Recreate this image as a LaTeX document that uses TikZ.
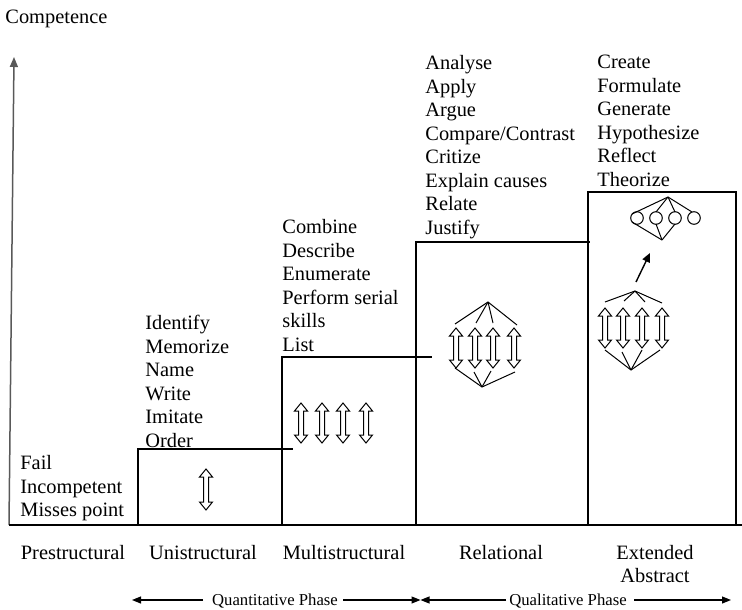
\documentclass[tikz,border=0pt]{standalone}
\usepackage{fontspec}
\setmainfont{Liberation Serif}
\usetikzlibrary{arrows.meta}
% hollow up-down arrow: x, top, bottom
\newcommand{\updown}[3]{%
  \draw[glyph] (#1,#2) -- (#1+6.5,#2+8) -- (#1+2.5,#2+8) -- (#1+2.5,#3-8) -- (#1+6.5,#3-8) -- (#1,#3)
    -- (#1-6.5,#3-8) -- (#1-2.5,#3-8) -- (#1-2.5,#2+8) -- (#1-6.5,#2+8) -- cycle;}
\begin{document}
\begin{tikzpicture}[x=1pt, y=-1pt, line width=0.8pt,
  every node/.style={font=\fontsize{20.4}{23.5}\selectfont, inner sep=0pt},
  list/.style={anchor=north west, align=left},
  level/.style={anchor=base},
  phasetext/.style={anchor=base, font=\fontsize{16.7}{20}\selectfont},
  phase/.style={-{Triangle[length=9pt,width=7pt]}, line width=1.1pt},
  stair/.style={line width=1.2pt},
  glyph/.style={line width=1pt}]
  \useasboundingbox (0,0) rectangle (742,610);
  % axis and stairs
  \node[anchor=base west] (comp) at (5,24) {Competence};
  \draw[-{Triangle[length=10pt,width=8pt]}, line width=1.5pt, black!65] (9,525) -- (14,57);
  \draw[stair] (9,525) -- (742,525);
  \draw[stair] (138,525) -- (138,449) -- (293,449);
  \draw[stair] (282,525) -- (282,357) -- (432,357);
  \draw[stair] (416,525) -- (416,242) -- (590,242);
  \draw[stair] (588,525) -- (588,192) -- (736,192) -- (736,525);
  % verbs
  \node[list] (preverbs) at (20,455) {Fail\\Incompetent\\Misses point};
  \node[list] (univerbs) at (145,315) {Identify\\Memorize\\Name\\Write\\Imitate\\Order};
  \node[list] (multiverbs) at (282,219) {Combine\\Describe\\Enumerate\\Perform serial\\skills\\List};
  \node[list] (relverbs) at (425,55) {Analyse\\Apply\\Argue\\Compare/Contrast\\Critize\\Explain causes\\Relate\\Justify};
  \node[list] (extverbs) at (597,55) {Create\\Formulate\\Generate\\Hypothesize\\Reflect\\Theorize};
  % unistructural
  \updown{206}{469}{510}
  % multistructural
  \foreach \x in {301,322,343,366} {\updown{\x}{403}{443}}
  % relational
  \coordinate (relTop) at (488,302);
  \coordinate (relBot) at (482,387);
  \foreach \x in {456,475,493,514} {\updown{\x}{328}{368}}
  \foreach \x/\y in {455/324, 476/323, 493/323, 517/325} \draw[glyph] (relTop) -- (\x,\y);
  \foreach \x/\y in {455/368, 474/372, 491/371, 515/372} \draw[glyph] (relBot) -- (\x,\y);
  % extended abstract
  \coordinate (extTop) at (668,197);
  \coordinate (extBot) at (662,240);
  \foreach \x in {637,656,675,694} \draw[glyph] (\x,218) circle[radius=6.3pt];
  \foreach \x/\y in {632/214, 656/212, 675/212, 692/212} \draw[glyph] (extTop) -- (\x,\y);
  \foreach \x/\y in {632/222, 656/224, 675/224} \draw[glyph] (extBot) -- (\x,\y);
  \draw[-{Triangle[length=9pt,width=8pt]}, line width=1.4pt] (636,282) -- (650,253);
  \coordinate (absTop) at (635,291);
  \coordinate (absBot) at (631,370);
  \foreach \x in {605,623,642,662} {\updown{\x}{308}{348}}
  \foreach \x/\y in {605/302, 624/301, 645/302, 662/303} \draw[glyph] (absTop) -- (\x,\y);
  \foreach \x/\y in {605/350, 622/352, 642/350, 660/350} \draw[glyph] (absBot) -- (\x,\y);
  % levels
  \node[level] (pre) at (73,559) {Prestructural};
  \node[level] (uni) at (203,559) {Unistructural};
  \node[level] (multi) at (344,559) {Multistructural};
  \node[level] (rel) at (501,559) {Relational};
  \node[level] (ext) at (655,559) {Extended};
  \node[level] (abs) at (655,582) {Abstract};
  % phases
  \node[phasetext] (quant) at (275,605) {Quantitative Phase};
  \node[phasetext] (qual) at (568,605) {Qualitative Phase};
  \coordinate (mid) at (420.5,600);
  \draw[phase] (203,600) -- (132,600);
  \draw[phase] (343,600) -- (mid);
  \draw[phase] (506,600) -- (mid);
  \draw[phase] (634,600) -- (731,600);
\end{tikzpicture}
\end{document}
